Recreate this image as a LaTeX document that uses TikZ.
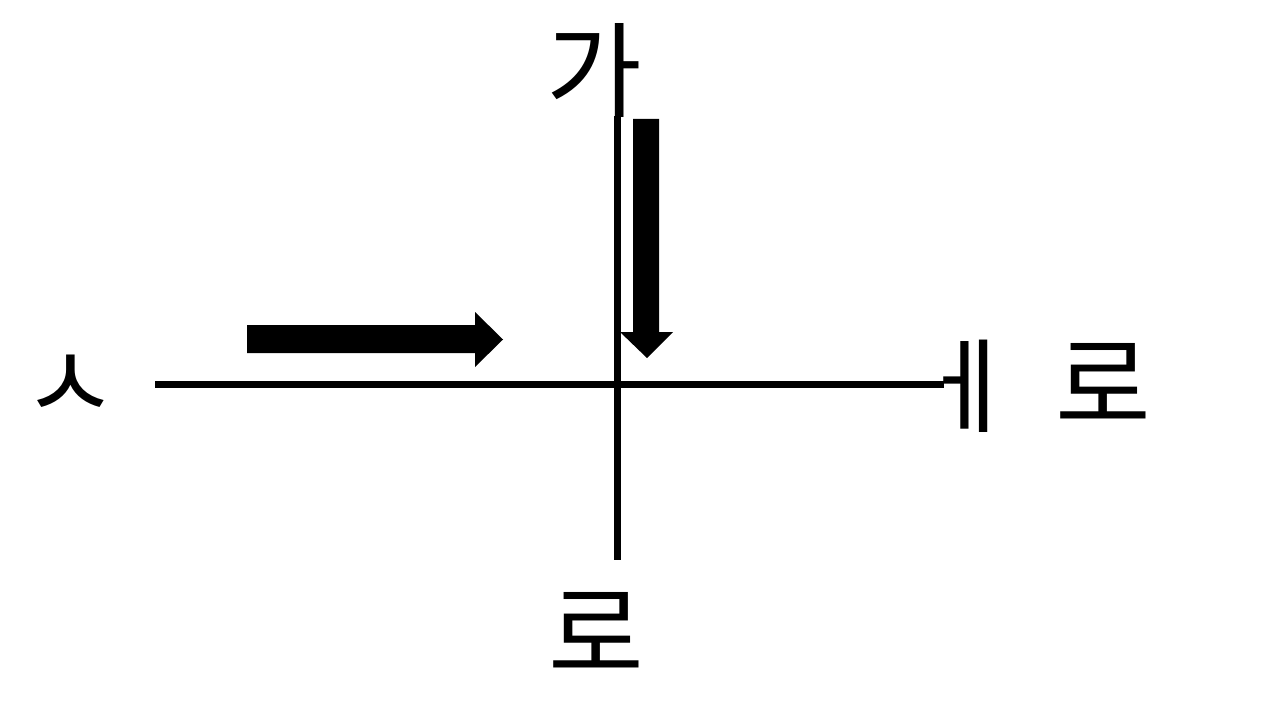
\documentclass[tikz,border=0pt]{standalone}
\usepackage{fontspec}
\newfontfamily\kr{Noto Sans CJK KR}
\begin{document}
\begin{tikzpicture}[x=0.75pt,y=-0.75pt,
  lbl/.style={inner sep=0pt,font=\kr\fontsize{78pt}{78pt}\selectfont},
  axis/.style={line width=5.25pt},
  blockarrow/.style={fill=black}]
\useasboundingbox (0,0) rectangle (1280,720);
\node[lbl] (ga) at (594,71) {가};
\node[lbl] (s) at (70,388) {ㅅ};
\node[lbl] (e) at (967,386) {ㅔ};
\node[lbl] (ro1) at (1103,383) {로};
\node[lbl] (ro2) at (596,632) {로};
\coordinate (vtop) at (617,116);
\coordinate (vbot) at (617,560);
\coordinate (hl) at (155,384);
\coordinate (hr) at (944,384);
\draw[axis] (vtop) -- (vbot);
\draw[axis] (hl) -- (hr);
\fill[blockarrow] (247,325) -- (475,325) -- (475,312) -- (503,339.5) -- (475,367) -- (475,353) -- (247,353) -- cycle;
\fill[blockarrow] (633,119) -- (659,119) -- (659,332) -- (673,332) -- (647,358) -- (620,332) -- (633,332) -- cycle;
\end{tikzpicture}
\end{document}
